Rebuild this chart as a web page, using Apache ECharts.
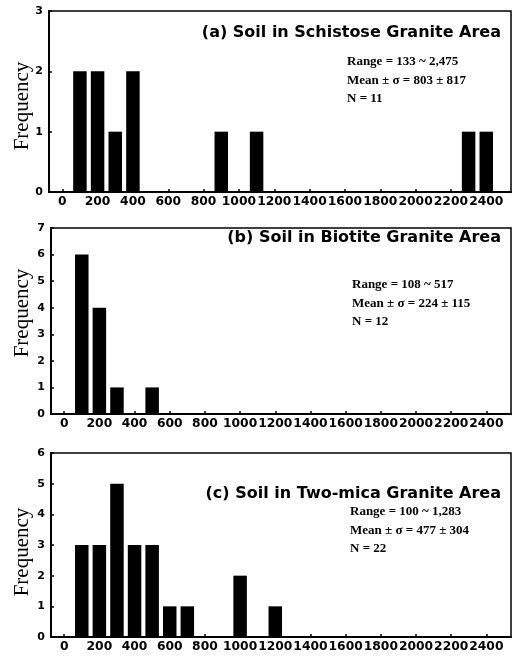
<!DOCTYPE html>
<html>
<head>
<meta charset="utf-8">
<script src="https://cdn.jsdelivr.net/npm/echarts@6/dist/echarts.min.js"></script>
<style>
html,body{margin:0;padding:0;background:#fff;}
#c{width:515px;height:657px;}
</style>
</head>
<body>
<div id="c"></div>
<script>
// Bin centres (mg/kg) and frequencies
const binsA = [100, 200, 300, 400, 900, 1100, 2300, 2400];
const freqA = [2, 2, 1, 2, 1, 1, 1, 1];
const binsB = [100, 200, 300, 500];
const freqB = [6, 4, 1, 1];
const binsC = [100, 200, 300, 400, 500, 600, 700, 1000, 1200];
const freqC = [3, 3, 5, 3, 3, 1, 1, 2, 1];

const xTicks = [0, 200, 400, 600, 800, 1000, 1200, 1400, 1600, 1800, 2000, 2200, 2400];
const yMaxes = [3, 7, 6];

const titles = [
  '(a) Soil in Schistose Granite Area',
  '(b) Soil in Biotite Granite Area',
  '(c) Soil in Two-mica Granite Area'
];
const statsA = ['Range = 133 ~ 2,475', 'Mean ± σ = 803 ± 817', 'N = 11'];
const statsB = ['Range = 108 ~ 517', 'Mean ± σ = 224 ± 115', 'N = 12'];
const statsC = ['Range = 100 ~ 1,283', 'Mean ± σ = 477 ± 304', 'N = 22'];

const chart = echarts.init(document.getElementById('c'));

const grids = [
  {left: 49, top: 11, width: 462, height: 181},
  {left: 51, top: 228, width: 460, height: 186},
  {left: 51, top: 453, width: 460, height: 184}
];

function pairs(xs, ys) { return xs.map((x, i) => [x, ys[i]]); }
const seriesData = [pairs(binsA, freqA), pairs(binsB, freqB), pairs(binsC, freqC)];

const xAxes = grids.map((g, i) => ({
  type: 'value', gridIndex: i, min: -75, max: 2540,
  axisLine: {show: true, onZero: false, lineStyle: {color: '#000', width: 2}},
  axisTick: {show: true, inside: true, length: 3, customValues: xTicks, lineStyle: {color: '#000', width: 1.5}},
  axisLabel: {customValues: xTicks, interval: 0, formatter: v => String(v), hideOverlap: false, showMinLabel: true, showMaxLabel: true,
    color: '#000', fontFamily: 'DejaVu Sans', fontWeight: 'bold', fontSize: 12.3, margin: 4},
  splitLine: {show: false}
}));
const yAxes = grids.map((g, i) => ({
  type: 'value', gridIndex: i, min: 0, max: yMaxes[i], interval: 1,
  axisLine: {show: true, onZero: false, lineStyle: {color: '#000', width: 2}},
  axisTick: {show: true, inside: true, length: 3, lineStyle: {color: '#000', width: 1.5}},
  axisLabel: {color: '#000', fontFamily: 'DejaVu Sans', fontWeight: 'bold', fontSize: 11, margin: 6},
  splitLine: {show: false}
}));
const series = seriesData.map((d, i) => ({
  type: 'bar', xAxisIndex: i, yAxisIndex: i, data: d, barWidth: 13.5,
  itemStyle: {color: '#000'}, silent: true
}));

const graphics = [];
const titleY = [33, 238, 494];
const statsX = [347, 352, 350];
const statsY = [62, 285, 512];
const stats = [statsA, statsB, statsC];
const freqY = [106, 313, 552];
for (let i = 0; i < 3; i++) {
  graphics.push({type: 'text', x: 501, y: titleY[i], style: {text: titles[i], font: 'bold 16px "DejaVu Sans"', fill: '#000', align: 'right', verticalAlign: 'middle'}});
  stats[i].forEach((s, k) => {
    graphics.push({type: 'text', x: statsX[i], y: statsY[i] + k * 18.5, style: {text: s, font: 'bold 13px "Liberation Serif"', fill: '#000', align: 'left', verticalAlign: 'middle'}});
  });
  graphics.push({type: 'text', x: 22, y: freqY[i], rotation: Math.PI / 2, style: {text: 'Frequency', font: '21px "Liberation Serif"', fill: '#000', align: 'center', verticalAlign: 'middle'}});
}

chart.setOption({
  animation: false,
  backgroundColor: '#fff',
  grid: grids.map(g => Object.assign({show: true, borderColor: '#000', borderWidth: 1.5, backgroundColor: 'transparent'}, g)),
  xAxis: xAxes,
  yAxis: yAxes,
  series: series,
  graphic: graphics
});
</script>
</body>
</html>
